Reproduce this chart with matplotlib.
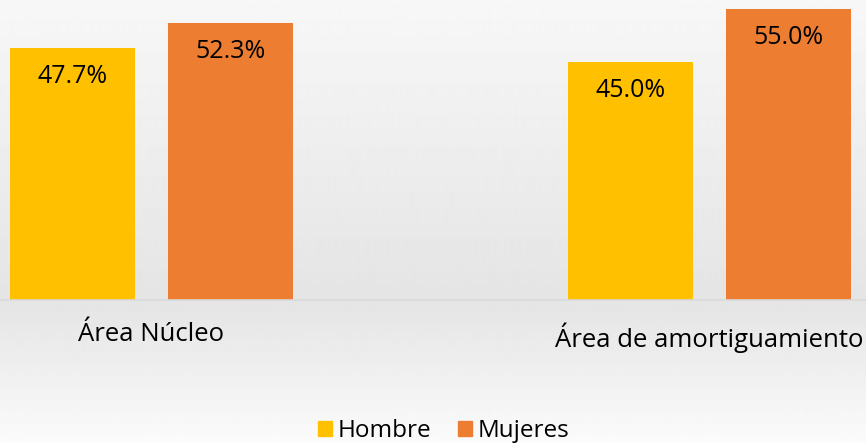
import numpy as np
import matplotlib
matplotlib.use("Agg")
import matplotlib.pyplot as plt
from matplotlib.patches import Patch

# data
categories = ["Área Núcleo", "Área de amortiguamiento"]
hombre = [47.7, 45.0]
mujeres = [52.3, 55.0]
series_names = ["Hombre", "Mujeres"]
colors = ["#FFC000", "#ED7D31"]

plt.rcParams['font.family'] = ['Open Sans', 'DejaVu Sans']

fig = plt.figure(figsize=(8.66, 4.43), dpi=100)

# background gradient (light grey, darkest near the axis line)
bg = fig.add_axes([0, 0, 1, 1], zorder=0)
rows = np.linspace(0, 443, 443)
shade = np.interp(rows, [0, 300, 360, 443], [0.97, 0.895, 0.93, 0.985])
img = np.repeat(shade[:, None], 2, axis=1)
bg.imshow(img, cmap="gray", vmin=0, vmax=1, aspect="auto", extent=[0, 1, 0, 1])
bg.axis("off")

ax = fig.add_axes([0, 0.3217, 1, 0.6783], zorder=1)
ax.patch.set_alpha(0)

x = np.arange(len(categories))
w = 0.224
off = 0.1416
b1 = ax.bar(x - off, hombre, w, color=colors[0])
b2 = ax.bar(x + off, mujeres, w, color=colors[1])

for bars in (b1, b2):
    for rect in bars:
        v = rect.get_height()
        ax.annotate(f"{v:.1f}%", (rect.get_x() + rect.get_width() / 2, v),
                    xytext=(0, -20.5), textcoords="offset points",
                    ha="center", va="center", fontsize=18, color="black")

ax.set_xlim(-0.2715, 1.280)
ax.set_ylim(0, 56.7)
ax.set_yticks([])
ax.set_xticks(x)
ax.set_xticklabels(categories, fontsize=18.5)
ax.tick_params(axis="x", length=0, pad=15.5)
for s in ["top", "left", "right"]:
    ax.spines[s].set_visible(False)
ax.spines["bottom"].set_color("#d9d9d9")
ax.spines["bottom"].set_linewidth(1.2)

handles = [Patch(color=c) for c in colors]
fig.legend(handles, series_names, loc="center", bbox_to_anchor=(0.512, 0.027),
           ncol=2, frameon=False, fontsize=17.5, handlelength=0.6,
           handleheight=0.6, handletextpad=0.2, columnspacing=1.1)

fig.savefig("out.png", dpi=100)
